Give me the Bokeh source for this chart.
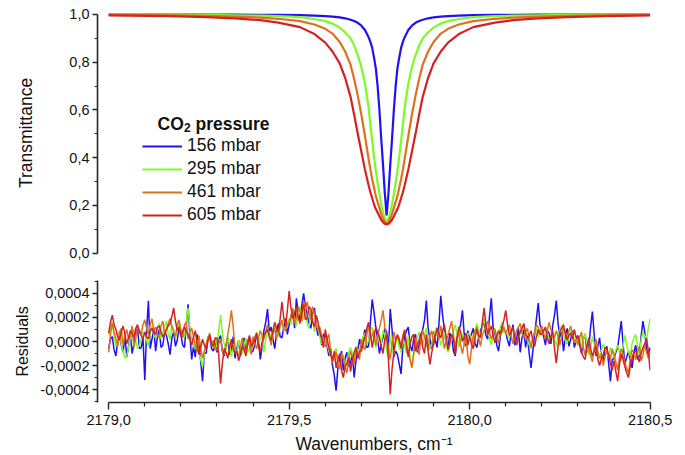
from bokeh.plotting import figure
from bokeh.layouts import column
from bokeh.models import (Range1d, FixedTicker, CustomJSTickFormatter, Legend, LegendItem, Label)
from bokeh.embed import file_html
from bokeh.resources import INLINE

# ---------------- data ----------------
series_names = ["156 mbar", "295 mbar", "461 mbar", "605 mbar"]
series_colors = ["#2010f5", "#7cfc22", "#e0701e", "#d42222"]

# transmittance spectra (wavenumber, cm-1)
spec_wn = [2179.00, 2179.17, 2179.27, 2179.35, 2179.42, 2179.47, 2179.53, 2179.57, 2179.60, 2179.62,
           2179.64, 2179.655, 2179.67, 2179.68, 2179.69, 2179.70, 2179.71, 2179.72, 2179.725, 2179.73,
           2179.735, 2179.74, 2179.745, 2179.75, 2179.755, 2179.76, 2179.765, 2179.77,
           2179.775, 2179.78, 2179.785, 2179.79, 2179.795, 2179.80, 2179.805, 2179.81, 2179.815, 2179.82,
           2179.83, 2179.84, 2179.85, 2179.86, 2179.87, 2179.885, 2179.90, 2179.92, 2179.94, 2179.97,
           2180.01, 2180.07, 2180.12, 2180.19, 2180.27, 2180.37, 2180.50]

t_156 = [0.9999, 0.9997, 0.9995, 0.9992, 0.9988, 0.998, 0.997, 0.995, 0.993, 0.991, 0.988, 0.984, 0.978,
         0.973, 0.965, 0.953, 0.935, 0.905, 0.885, 0.86, 0.82, 0.775, 0.70, 0.60, 0.48, 0.37, 0.25,
         0.158,
         0.25, 0.37, 0.48, 0.60, 0.70, 0.775, 0.82, 0.86, 0.885, 0.905, 0.935, 0.953, 0.965, 0.973,
         0.978, 0.984, 0.988, 0.991, 0.993, 0.995, 0.997, 0.998, 0.9988, 0.9992, 0.9995, 0.9997, 0.9999]
t_295 = [0.9993, 0.9988, 0.998, 0.9968, 0.995, 0.993, 0.989, 0.981, 0.972, 0.962, 0.945, 0.925, 0.90,
         0.87, 0.83, 0.78, 0.71, 0.61, 0.54, 0.47, 0.405, 0.345, 0.295, 0.25, 0.205, 0.17, 0.145,
         0.13,
         0.145, 0.17, 0.205, 0.25, 0.295, 0.345, 0.405, 0.47, 0.54, 0.61, 0.71, 0.78, 0.83, 0.87,
         0.90, 0.925, 0.945, 0.962, 0.972, 0.981, 0.989, 0.993, 0.995, 0.9968, 0.998, 0.9988, 0.9993]
t_461 = [0.998, 0.996, 0.994, 0.991, 0.987, 0.982, 0.972, 0.958, 0.94, 0.92, 0.885, 0.845, 0.79,
         0.73, 0.66, 0.58, 0.49, 0.395, 0.35, 0.31, 0.275, 0.24, 0.215, 0.19, 0.165, 0.145, 0.13,
         0.125,
         0.13, 0.145, 0.165, 0.19, 0.215, 0.24, 0.275, 0.31, 0.35, 0.395, 0.49, 0.58, 0.66, 0.73,
         0.79, 0.845, 0.885, 0.92, 0.94, 0.958, 0.972, 0.982, 0.987, 0.991, 0.994, 0.996, 0.998]
t_605 = [0.996, 0.993, 0.989, 0.984, 0.976, 0.966, 0.947, 0.918, 0.882, 0.845, 0.795, 0.735, 0.655,
         0.58, 0.50, 0.425, 0.35, 0.285, 0.255, 0.23, 0.205, 0.185, 0.17, 0.155, 0.14, 0.13, 0.123,
         0.12,
         0.123, 0.13, 0.14, 0.155, 0.17, 0.185, 0.205, 0.23, 0.255, 0.285, 0.35, 0.425, 0.50, 0.58,
         0.655, 0.735, 0.795, 0.845, 0.882, 0.918, 0.947, 0.966, 0.976, 0.984, 0.989, 0.993, 0.996]

# residuals, in units of 1e-4
resid_wn = [
    2179.000, 2179.005, 2179.010, 2179.015, 2179.020, 2179.025, 2179.030, 2179.035, 2179.040, 2179.045,
    2179.050, 2179.055, 2179.060, 2179.065, 2179.070, 2179.075, 2179.080, 2179.085, 2179.090, 2179.095,
    2179.100, 2179.105, 2179.110, 2179.115, 2179.120, 2179.125, 2179.130, 2179.135, 2179.140, 2179.145,
    2179.150, 2179.155, 2179.160, 2179.165, 2179.170, 2179.175, 2179.180, 2179.185, 2179.190, 2179.195,
    2179.200, 2179.205, 2179.210, 2179.215, 2179.220, 2179.225, 2179.230, 2179.235, 2179.240, 2179.245,
    2179.250, 2179.255, 2179.260, 2179.265, 2179.270, 2179.275, 2179.280, 2179.285, 2179.290, 2179.295,
    2179.300, 2179.305, 2179.310, 2179.315, 2179.320, 2179.325, 2179.330, 2179.335, 2179.340, 2179.345,
    2179.350, 2179.355, 2179.360, 2179.365, 2179.370, 2179.375, 2179.380, 2179.385, 2179.390, 2179.395,
    2179.400, 2179.405, 2179.410, 2179.415, 2179.420, 2179.425, 2179.430, 2179.435, 2179.440, 2179.445,
    2179.450, 2179.455, 2179.460, 2179.465, 2179.470, 2179.475, 2179.480, 2179.485, 2179.490, 2179.495,
    2179.500, 2179.505, 2179.510, 2179.515, 2179.520, 2179.525, 2179.530, 2179.535, 2179.540, 2179.545,
    2179.550, 2179.555, 2179.560, 2179.565, 2179.570, 2179.575, 2179.580, 2179.585, 2179.590, 2179.595,
    2179.600, 2179.605, 2179.610, 2179.615, 2179.620, 2179.625, 2179.630, 2179.635, 2179.640, 2179.645,
    2179.650, 2179.655, 2179.660, 2179.665, 2179.670, 2179.675, 2179.680, 2179.685, 2179.690, 2179.695,
    2179.700, 2179.705, 2179.710, 2179.715, 2179.720, 2179.725, 2179.730, 2179.735, 2179.740, 2179.745,
    2179.750, 2179.755, 2179.760, 2179.765, 2179.770, 2179.775, 2179.780, 2179.785, 2179.790, 2179.795,
    2179.800, 2179.805, 2179.810, 2179.815, 2179.820, 2179.825, 2179.830, 2179.835, 2179.840, 2179.845,
    2179.850, 2179.855, 2179.860, 2179.865, 2179.870, 2179.875, 2179.880, 2179.885, 2179.890, 2179.895,
    2179.900, 2179.905, 2179.910, 2179.915, 2179.920, 2179.925, 2179.930, 2179.935, 2179.940, 2179.945,
    2179.950, 2179.955, 2179.960, 2179.965, 2179.970, 2179.975, 2179.980, 2179.985, 2179.990, 2179.995,
    2180.000, 2180.005, 2180.010, 2180.015, 2180.020, 2180.025, 2180.030, 2180.035, 2180.040, 2180.045,
    2180.050, 2180.055, 2180.060, 2180.065, 2180.070, 2180.075, 2180.080, 2180.085, 2180.090, 2180.095,
    2180.100, 2180.105, 2180.110, 2180.115, 2180.120, 2180.125, 2180.130, 2180.135, 2180.140, 2180.145,
    2180.150, 2180.155, 2180.160, 2180.165, 2180.170, 2180.175, 2180.180, 2180.185, 2180.190, 2180.195,
    2180.200, 2180.205, 2180.210, 2180.215, 2180.220, 2180.225, 2180.230, 2180.235, 2180.240, 2180.245,
    2180.250, 2180.255, 2180.260, 2180.265, 2180.270, 2180.275, 2180.280, 2180.285, 2180.290, 2180.295,
    2180.300, 2180.305, 2180.310, 2180.315, 2180.320, 2180.325, 2180.330, 2180.335, 2180.340, 2180.345,
    2180.350, 2180.355, 2180.360, 2180.365, 2180.370, 2180.375, 2180.380, 2180.385, 2180.390, 2180.395,
    2180.400, 2180.405, 2180.410, 2180.415, 2180.420, 2180.425, 2180.430, 2180.435, 2180.440, 2180.445,
    2180.450, 2180.455, 2180.460, 2180.465, 2180.470, 2180.475, 2180.480, 2180.485, 2180.490, 2180.495,
    2180.500]

r_156 = [
    -0.6, 0.2, 0.4, -0.7, -1.2, 0.1, 0.8, -0.3, -0.9, 0.5, -1.3, -0.4, 0.6, -1.0, -0.2, 0.7, 1.1, -0.6, -0.5, 0.3,
    -3.2, 0.9, 3.4, -0.6, 0.2, 1.1, -0.8, 0.4, 1.0, -0.5, -0.3, 0.8, 0.5, -0.2, -1.1, 0.3, 0.8, -0.4, 0.1, 1.2,
    0.6, -0.3, -0.5, 1.4, 3.1, 0.5, -1.5, -0.4, -1.3, 0.6, -0.2, -1.7, -3.3, -0.9, -1.0, 0.2, 0.4, -0.6, -0.8, 0.1,
    -0.9, 0.2, 0.5, -0.8, -1.2, -0.3, 0.3, -1.1, -0.7, 0.4, -1.4, -0.6, 0.1, -1.2, -0.5, 0.3, -1.0, -0.2, 0.4, -0.9,
    -0.8, -0.2, 0.6, 0.1, -1.5, -0.4, 0.9, 1.6, 2.7, 0.8, 1.2, 0.2, -0.6, 0.7, 1.5, 0.4, 0.3, 1.2, 1.9, 0.6,
    1.4, 2.0, 2.6, 1.1, 3.6, 2.4, 1.8, 3.0, 4.0, 2.9, 2.2, 1.5, 1.1, 2.3, 2.8, 1.2, 0.5, 1.0, -0.3, 0.6,
    0.6, -0.4, -1.2, -0.6, -2.0, -2.8, -4.1, -2.2, -1.5, -0.8, -2.4, -1.4, -0.9, -2.1, -1.8, -1.0, -3.0, -1.6, -0.7, 0.2,
    -0.6, 0.3, 1.0, -0.5, -0.4, 1.6, 3.5, 2.4, 1.2, 0.2, -1.0, -0.2, 0.3, 1.1, 0.8, -0.6, 2.7, 1.0, -1.3, -0.8,
    -1.1, -1.9, -2.7, -0.4, 0.4, 0.9, 1.2, -0.3, -0.8, 0.2, 0.6, -0.9, -0.3, 0.5, 1.0, 1.8, 3.4, 1.1, 0.2, -0.6,
    0.8, 0.1, -0.5, 1.5, 3.8, 2.2, 1.0, -0.3, -0.6, 0.7, 0.4, -0.8, -1.2, 0.2, 0.9, 1.4, 2.6, 0.6, -0.4, 0.9,
    0.3, 0.6, 1.1, -0.2, -0.5, 0.4, 0.9, 1.3, 1.6, 0.5, 0.2, 2.1, 3.6, 1.2, 0.7, -0.3, -0.8, 0.4, 1.3, 0.8,
    0.8, 0.1, -0.4, 0.7, 1.4, -0.3, 0.2, 1.1, -0.9, 0.3, 1.0, -0.5, 0.5, -1.0, -2.2, -0.8, 0.6, 1.9, 3.2, 1.4,
    1.0, 0.4, -0.3, 0.9, 0.7, -0.2, 1.3, 2.2, 3.4, 1.5, 0.4, 0.8, -0.8, 0.3, 1.1, -0.4, 0.2, 0.9, -0.5, 0.1,
    0.4, -0.3, -1.0, 0.2, 0.6, -0.9, -0.5, 1.2, 2.5, 0.6, -1.2, -0.4, 0.3, -1.1, -1.6, -0.7, -0.4, -1.8, -3.3, -1.5,
    -1.4, -0.9, -0.5, 0.6, 1.7, -0.2, -1.9, -1.3, -0.8, -1.6, -2.2, -0.9, -0.3, -1.5, -1.2, 0.4, 1.7, 0.8, -0.6, -1.2,
    -0.5]
r_295 = [
    0.5, 1.1, 1.6, 0.4, -0.4, 0.3, 0.9, -0.2, -0.8, -1.4, -1.2, -0.5, 0.3, 0.7, 1.0, 0.1, -0.6, -0.3, 0.2, 0.8,
    0.6, 0.1, -0.4, 0.7, 1.2, 0.5, 0.3, 1.0, 1.5, 0.2, 0.8, 1.3, 1.7, 0.6, 0.2, 1.4, 1.0, 0.3, 0.9, 1.5,
    1.0, 0.6, 0.4, 1.8, 2.8, 1.2, 0.2, -0.4, -0.6, 0.1, -0.9, -1.5, -2.1, -1.0, -0.3, 0.4, 0.6, -0.2, -0.5, 0.3,
    -0.5, 1.0, 2.2, 0.6, -0.2, -0.7, 0.4, -0.4, -1.3, -0.2, -0.8, -1.1, 0.1, -0.5, -1.0, -0.3, 0.3, -0.9, -0.6, 0.2,
    -0.4, 0.3, 0.8, -0.2, 0.2, 0.5, -0.9, 0.2, 1.1, 0.7, 0.4, 1.0, 1.3, 0.4, 0.6, 1.2, 1.6, 0.9, 1.0, 1.5,
    1.9, 1.4, 2.4, 2.0, 1.3, 2.2, 2.9, 1.7, 2.0, 2.5, 1.5, 1.1, 2.6, 1.9, 0.8, 1.5, 1.2, 0.4, -0.2, 0.3,
    0.3, -0.2, -0.8, -1.2, -1.4, -0.9, -0.6, -1.6, -2.0, -1.3, -1.1, -2.2, -1.7, -0.9, -0.5, -1.0, -1.3, -0.4, -0.9, -0.6,
    -0.2, 0.4, 0.7, -0.3, 0.1, 0.8, 1.2, 0.3, -0.5, 0.1, 0.6, -0.2, 0.9, 0.5, -0.8, -1.3, 0.4, -0.5, -1.1, -0.2,
    0.3, -0.5, -0.9, 0.2, -0.4, -1.0, 0.5, -1.4, -2.2, -1.1, -0.6, 0.3, 0.8, 0.1, -0.3, 0.6, 1.1, 0.2, -0.7, -0.2,
    0.5, 0.9, 1.2, 0.4, -0.3, 0.2, 0.8, -0.2, -0.9, -0.4, 0.2, 0.9, 1.4, 0.6, -0.5, 0.1, 0.6, -0.3, 0.1, 0.7,
    0.6, 0.2, -0.2, 0.8, 1.5, 0.9, 0.4, 1.3, 1.9, 1.1, 0.9, 0.3, -0.3, 0.6, 1.1, 0.2, 0.5, 1.2, 1.6, 0.7,
    0.9, 0.5, 0.3, 0.8, 1.1, 0.4, -0.2, 0.3, 0.7, 1.0, 1.3, 0.6, 0.1, -0.3, -0.6, 0.2, 0.8, 1.1, 0.4, 0.9,
    0.5, 0.8, 1.2, 0.6, 0.1, 0.4, 0.8, 0.2, -0.4, 0.5, 1.0, 1.3, 0.6, 0.1, -0.2, 0.4, 0.9, 0.6, 0.3, -0.1,
    0.2, 0.4, -0.6, 0.1, 0.7, -0.3, -1.1, -0.5, 0.4, -0.2, -0.8, -1.2, -1.4, -0.7, -0.2, -0.6, -1.0, -1.3, -0.5, -0.9,
    -1.2, -0.7, -0.3, -0.9, -1.6, -0.4, 0.5, -0.3, -0.9, -1.2, -0.2, 0.3, 0.6, -0.4, -1.1, 0.1, 0.8, 0.5, 0.2, 1.1,
    1.9]
r_461 = [
    -0.9, 0.6, 1.5, 0.8, 0.2, -0.4, 0.7, 1.1, -0.3, 0.5, 1.0, 0.2, 0.4, 1.3, -0.5, 0.3, 1.2, 0.9, 0.6, 1.4,
    1.8, 1.1, 0.6, 1.4, 1.9, 0.9, 1.2, 0.5, 0.3, 1.3, 1.7, 0.7, 1.0, 1.5, 1.9, 1.2, 0.8, 0.4, 1.4, 1.8,
    0.9, 0.3, 1.4, 1.6, 0.2, 0.8, 1.1, 0.4, -0.4, -0.9, 0.5, -0.6, -1.4, -0.8, -0.2, 0.3, 0.7, -0.3, 0.1, -0.7,
    -0.7, -0.2, 0.2, -0.8, -1.1, -0.4, 0.6, 1.5, 2.6, 1.2, -0.5, -1.0, -1.2, -0.4, 0.3, -0.6, -0.9, 0.2, -0.3, -1.1,
    0.4, -0.2, -0.6, 0.3, 0.9, 0.5, 0.2, 0.8, 1.4, 0.4, -0.3, 0.6, 1.1, 0.2, 0.7, 1.3, 1.8, 1.0, 0.9, 1.5,
    1.6, 2.2, 2.8, 1.5, 1.9, 2.9, 2.5, 1.7, 3.4, 2.6, 3.3, 2.4, 1.8, 2.9, 2.3, 1.4, 0.9, 1.2, 0.4, -0.3,
    -0.4, 0.2, 0.6, -0.9, -1.8, -1.2, -0.9, -1.7, -2.3, -1.0, -1.4, -2.1, -2.6, -1.5, -0.8, -1.3, -1.9, -0.6, -1.0, -1.5,
    0.2, -0.4, -0.7, 0.6, 1.3, 0.2, 0.5, 0.9, -0.3, 0.5, 1.1, 1.8, 2.6, 1.2, 0.4, -0.6, -1.5, -0.2, 0.8, 0.1,
    0.6, 0.2, -0.4, 0.5, 1.0, -0.3, -0.8, -1.5, -2.2, -0.9, 0.3, -0.4, -1.1, 0.2, 0.9, 0.4, -0.2, -0.7, 0.5, 0.9,
    -0.3, 0.4, 0.9, 0.2, 1.3, 0.5, -0.6, 0.1, 0.5, 1.1, 1.7, 0.6, -0.4, 0.3, 0.8, -0.3, -1.0, -0.2, 0.4, -1.2,
    -1.9, -0.6, 0.5, 0.9, 1.2, 0.3, -0.4, 0.5, 0.9, 1.3, 1.7, 0.8, 0.2, 0.6, 1.0, 0.4, -0.2, 0.7, 0.8, 1.2,
    0.7, 1.0, 1.4, 0.5, -0.2, 0.4, 0.9, 1.2, 1.5, 0.7, 0.3, 0.8, 1.1, 0.2, -0.5, 0.3, 0.8, 1.4, 1.2, 0.6,
    1.3, 0.7, 0.2, 0.9, 1.6, 1.0, 0.6, 0.3, 0.9, 0.4, -0.3, 0.5, 1.1, 0.8, 0.4, 0.9, 1.3, 0.5, -0.1, 0.2,
    -0.3, 0.4, 0.8, -0.5, -1.2, -0.2, -0.6, -1.1, -1.7, -0.6, 0.2, -0.8, -1.4, -1.1, -2.0, -1.3, -0.7, -1.0, -1.5, -0.6,
    -1.1, -1.7, -2.4, -1.3, -0.6, -1.0, -1.8, -2.2, -2.6, -1.4, -0.7, -0.9, -1.5, -0.8, -0.4, -1.6, -1.2, -0.3, -0.9, -1.4,
    -0.8]
r_605 = [
    0.7, 1.6, 2.2, 1.4, 1.0, 0.4, 0.1, 0.8, 1.3, 0.6, -0.2, 0.3, 0.9, 0.7, 0.3, 1.1, 1.4, 0.8, 0.5, 0.2,
    0.8, 0.4, 0.2, 0.9, 1.1, 0.7, 0.6, 1.2, 1.3, 0.8, 0.4, 0.6, 1.0, 1.3, 1.5, 2.1, 2.8, 1.7, 0.9, 1.2,
    0.4, 0.9, 1.2, 0.8, 0.6, 0.2, -0.3, 0.4, 0.9, -0.2, -1.1, -0.5, 0.2, -0.3, -0.6, 0.1, 0.5, -0.2, -0.4, 0.3,
    0.3, -1.2, -3.5, -1.8, -0.6, -0.9, -1.4, -0.5, 0.2, -0.6, -1.0, -0.8, -1.6, -1.1, -0.4, -0.7, -1.2, -0.2, 0.5, -0.4,
    -0.2, 0.3, 0.7, -0.4, -0.9, -0.1, 0.5, 0.8, 1.0, 0.4, 0.1, 0.9, 1.6, 1.1, 0.8, 1.9, 3.3, 2.0, 1.2, 2.6,
    4.2, 2.8, 1.9, 2.4, 2.9, 2.0, 1.5, 2.5, 3.1, 1.8, 2.0, 2.9, 2.7, 1.6, 1.2, 2.2, 1.6, 0.8, 0.3, -0.5,
    1.0, 0.2, -0.5, -1.1, -1.6, -0.8, -2.2, -1.5, -1.0, -2.4, -3.0, -2.1, -1.8, -1.3, -2.5, -1.6, -0.9, -0.5, -1.4, -0.8,
    -0.8, -0.2, 0.4, 1.1, 1.6, 0.7, -0.5, 0.4, 1.2, 0.8, 0.3, -0.4, -1.0, 0.2, 0.6, -1.5, -4.4, -2.3, -0.9, 0.2,
    0.5, 0.1, -0.6, 0.3, 0.9, -0.4, -1.3, -0.2, 0.4, 0.6, -0.8, -0.3, 0.1, 0.7, -0.5, -1.0, 0.6, -0.8, -1.9, -0.9,
    -0.2, 0.5, 1.1, 0.6, 0.3, 0.9, 1.4, 0.4, -0.7, -0.1, 0.6, 0.2, -1.1, 0.3, 1.2, 0.8, 0.0, 0.4, 0.7, -0.3,
    0.4, -0.2, -0.6, 0.3, 1.0, 0.5, 0.3, 1.6, 2.8, 1.4, 0.6, 0.9, 1.3, 0.5, -0.1, 0.4, 0.9, 0.6, 1.2, 1.8,
    2.6, 1.4, 0.5, 0.8, 1.2, 0.4, -0.3, 0.3, 0.8, 1.1, 1.5, 0.7, 0.2, 0.5, 0.9, 0.1, -0.4, 0.4, 1.0, 0.6,
    0.6, 0.9, 1.2, 0.3, -0.2, 0.4, 0.9, -0.6, -1.8, -0.4, 0.8, 1.1, 1.4, 0.6, 0.1, 0.5, 0.7, 0.2, 1.0, 0.3,
    0.5, -0.2, -0.9, -1.3, -1.5, -0.4, 0.3, -0.6, -1.2, -0.8, -0.4, -1.5, -2.0, -1.4, -1.1, -0.5, -0.6, -1.2, -1.8, -2.4,
    -1.6, -2.5, -3.3, -1.9, -1.0, -1.5, -2.1, -2.6, -3.0, -2.0, -1.4, -0.9, -0.8, -1.3, -1.7, -1.0, -0.5, -0.2, 0.3, -0.8,
    -2.4]

trans_ticks = [0.0, 0.2, 0.4, 0.6, 0.8, 1.0]
trans_minor = [0.1, 0.3, 0.5, 0.7, 0.9]
resid_ticks = [-4, -2, 0, 2, 4]
resid_minor = [-5, -3, -1, 1, 3, 5]
wn_ticks = [2179.0, 2179.5, 2180.0, 2180.5]
wn_minor = [2179.1, 2179.2, 2179.3, 2179.4, 2179.6, 2179.7, 2179.8, 2179.9,
            2180.1, 2180.2, 2180.3, 2180.4]

FONT = "Liberation Sans"
AX = "#262626"
TXT = "#111111"

x_range = Range1d(2178.969, 2180.501)


def style_axis(ax):
    ax.axis_line_color = AX
    ax.axis_line_width = 1.6
    ax.major_tick_line_color = AX
    ax.minor_tick_line_color = AX
    ax.major_tick_line_width = 1.4
    ax.minor_tick_line_width = 1.2
    ax.major_tick_in = 0
    ax.minor_tick_in = 0
    ax.major_label_text_font = FONT
    ax.major_label_text_font_size = "14.5px"
    ax.major_label_text_color = TXT
    ax.axis_label_text_font = FONT
    ax.axis_label_text_font_style = "normal"
    ax.axis_label_text_color = TXT


# ---------------- top panel ----------------
p1 = figure(frame_width=553, frame_height=241, x_range=x_range, y_range=Range1d(-0.0013, 1.0083),
            output_backend="svg", toolbar_location=None, x_axis_location=None,
            min_border_left=97, min_border_right=30, min_border_top=12, min_border_bottom=10)
p1.outline_line_color = None
p1.grid.visible = False

tvals = [t_156, t_295, t_461, t_605]
top_renderers = []
for col, tv in zip(series_colors, tvals):
    top_renderers.append(p1.line(spec_wn, tv, line_color=col, line_width=2.2))

ya = p1.yaxis[0]
style_axis(ya)
ya.ticker = FixedTicker(ticks=trans_ticks, minor_ticks=trans_minor)
ya.formatter = CustomJSTickFormatter(code="return tick.toFixed(1).replace('.', ',');")
ya.bounds = (0, 1)
ya.major_tick_out = 5
ya.minor_tick_out = 3
ya.major_label_standoff = 3
ya.axis_label = "Transmittance"
ya.axis_label_text_font_size = "17.5px"
ya.axis_label_standoff = 30

legend = Legend(items=[LegendItem(label=n, renderers=[r]) for n, r in zip(series_names, top_renderers)],
                location=(45, 28), orientation="vertical",
                glyph_width=40, glyph_height=20, label_height=20, label_standoff=5, spacing=2,
                padding=0, margin=0, border_line_alpha=0, background_fill_alpha=0,
                label_text_font=FONT, label_text_font_size="17.5px", label_text_color=TXT)
p1.add_layout(legend)

# legend title: CO2 pressure (subscript 2)
title_y = 130
p1.add_layout(Label(x=60, y=title_y, x_units="screen", y_units="screen", text="CO",
                    text_font=FONT, text_font_size="17.5px", text_font_style="bold",
                    text_color=TXT, text_baseline="alphabetic"))
p1.add_layout(Label(x=86.5, y=title_y - 4, x_units="screen", y_units="screen", text="2",
                    text_font=FONT, text_font_size="12px", text_font_style="bold",
                    text_color=TXT, text_baseline="alphabetic"))
p1.add_layout(Label(x=98, y=title_y, x_units="screen", y_units="screen", text="pressure",
                    text_font=FONT, text_font_size="17.5px", text_font_style="bold",
                    text_color=TXT, text_baseline="alphabetic"))

# ---------------- bottom panel ----------------
p2 = figure(frame_width=553, frame_height=122, x_range=x_range, y_range=Range1d(-5.08, 5.08),
            output_backend="svg", toolbar_location=None,
            min_border_left=97, min_border_right=30, min_border_top=17, min_border_bottom=50)
p2.outline_line_color = None
p2.grid.visible = False

rvals = [r_156, r_295, r_461, r_605]
for col, rv in zip(series_colors, rvals):
    p2.line(resid_wn, rv, line_color=col, line_width=1.5)

ya2 = p2.yaxis[0]
style_axis(ya2)
ya2.ticker = FixedTicker(ticks=resid_ticks, minor_ticks=resid_minor)
ya2.formatter = CustomJSTickFormatter(code="return (tick*1e-4).toFixed(4).replace('.', ',');")
ya2.major_tick_out = 5
ya2.minor_tick_out = 3
ya2.major_label_standoff = 3
ya2.axis_label = "Residuals"
ya2.axis_label_text_font_size = "16px"
ya2.axis_label_standoff = 6

xa2 = p2.xaxis[0]
style_axis(xa2)
xa2.ticker = FixedTicker(ticks=wn_ticks, minor_ticks=wn_minor)
xa2.formatter = CustomJSTickFormatter(code="return tick.toFixed(1).replace('.', ',');")
xa2.bounds = (2179.0, 2180.5)
xa2.major_tick_out = 7
xa2.minor_tick_out = 4
xa2.major_label_standoff = 5
xa2.axis_label = "Wavenumbers, cm\u207b\u00b9"
xa2.axis_label_text_font_size = "17.5px"
xa2.axis_label_standoff = 6

layout = column(p1, p2)
open("out.html", "w").write(file_html(layout, INLINE))
